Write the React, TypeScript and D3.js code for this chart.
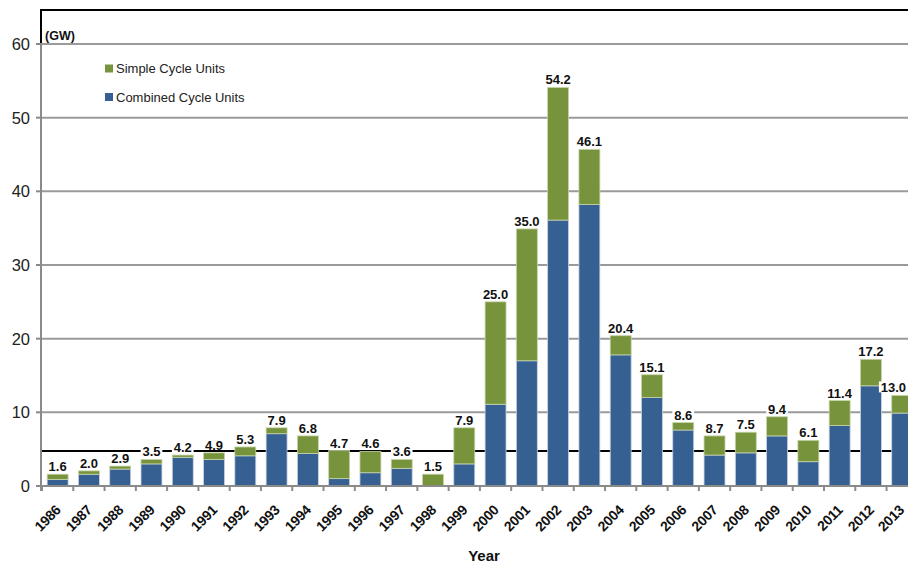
import React from "react";
import * as d3 from "d3";

const years = [
  "1986","1987","1988","1989","1990","1991","1992","1993","1994","1995",
  "1996","1997","1998","1999","2000","2001","2002","2003","2004","2005",
  "2006","2007","2008","2009","2010","2011","2012","2013",
];
const combined = [0.9,1.6,2.3,3.0,3.9,3.6,4.1,7.1,4.4,1.0,1.8,2.4,0,3.0,11.1,17.0,36.1,38.2,17.8,12.0,7.6,4.2,4.5,6.8,3.3,8.2,13.6,9.9];
const simple = [0.7,0.45,0.4,0.6,0.3,0.9,1.2,0.8,2.4,3.8,2.9,1.2,1.6,4.9,13.9,17.9,18.0,7.5,2.6,3.1,1.0,2.6,2.8,2.6,2.9,3.4,3.6,2.4];
const totalLabels = ["1.6","2.0","2.9","3.5","4.2","4.9","5.3","7.9","6.8","4.7","4.6","3.6","1.5","7.9","25.0","35.0","54.2","46.1","20.4","15.1","8.6","8.7","7.5","9.4","6.1","11.4","17.2","13.0"];
const yTicks = [0, 10, 20, 30, 40, 50, 60];
const refLine = 4.75;
const seriesNames = ["Simple Cycle Units", "Combined Cycle Units"];

const GREEN = "#77933C";
const BLUE = "#376092";
const FONT = "Liberation Sans, Arial, sans-serif";

export default function App() {
  const W = 908, H = 565;
  const x = d3.scaleBand<string>().domain(years).range([42, 42 + 28 * 31.28]).paddingInner(0.33).paddingOuter(0.165);
  const y = d3.scaleLinear().domain([0, 60]).range([486, 44]);
  const step = x.step();
  const bw = x.bandwidth();

  return (
    <svg width={W} height={H} style={{ position: "absolute", left: 0, top: 0, background: "#fff" }} fontFamily={FONT}>
      <rect x={0} y={0} width={W} height={H} fill="#fff" />
      <path d={`M41,44 V10 H${W}`} fill="none" stroke="#000" strokeWidth={2} />
      {yTicks.filter((t) => t > 0).map((t) => (
        <line key={t} x1={41} x2={W} y1={y(t)} y2={y(t)} stroke="#9a9a9a" strokeWidth={2} />
      ))}
      {yTicks.map((t) => (
        <g key={"yt" + t}>
          <line x1={36} x2={41} y1={y(t)} y2={y(t)} stroke="#8a8a8a" strokeWidth={2} />
          <text x={30} y={y(t) + 6} textAnchor="end" fontSize={16.5} fill="#222">{t}</text>
        </g>
      ))}
      <line x1={41} x2={W} y1={y(refLine)} y2={y(refLine)} stroke="#000" strokeWidth={2} />
      {years.map((yr, i) => {
        const x0 = x(yr)!;
        const c = combined[i];
        const s = simple[i];
        return (
          <g key={yr}>
            {c > 0 && (
              <rect x={x0} y={y(c)} width={bw} height={y(0) - y(c)} fill={BLUE} stroke="#c9d3e3" strokeWidth={0.8} />
            )}
            <rect x={x0} y={y(c + s)} width={bw} height={y(c) - y(c + s)} fill={GREEN} stroke="#c6d4a8" strokeWidth={0.8} />
          </g>
        );
      })}
      {years.map((yr, i) => {
        const tw = totalLabels[i].length * 7.4 - 2.5;
        let cx = x(yr)! + bw / 2;
        if (cx + tw / 2 > W - 1) cx = W - 1 - tw / 2;
        const top = y(combined[i] + simple[i]);
        const base = top - 3;
        return (
          <g key={"lb" + yr}>
            <rect x={cx - tw / 2 - 1} y={base - 11} width={tw + 2} height={11} fill="#fff" />
            <text x={cx} y={base} textAnchor="middle" fontSize={13} fontWeight="bold" fill="#111">{totalLabels[i]}</text>
          </g>
        );
      })}
      <line x1={41} x2={W} y1={486} y2={486} stroke="#8a8a8a" strokeWidth={2} />
      <line x1={41} x2={41} y1={44} y2={491} stroke="#8a8a8a" strokeWidth={2} />
      {years.map((yr, i) => {
        const bx = 42 + i * step;
        return <line key={"xt" + yr} x1={bx} x2={bx} y1={486} y2={491} stroke="#8a8a8a" strokeWidth={2} />;
      })}
      {years.map((yr) => {
        const cx = x(yr)! + bw / 2;
        return (
          <g key={"xl" + yr} transform={`translate(${Math.min(cx + 4, W - 3)},${511})`}>
            <text transform="rotate(-45)" textAnchor="end" fontSize={14} letterSpacing={-0.3} fontWeight="bold" fill="#111">{yr}</text>
          </g>
        );
      })}
      <text x={484} y={561} textAnchor="middle" fontSize={15} fontWeight="bold" fill="#111">Year</text>
      <text x={45} y={40} fontSize={12.5} fontWeight="bold" fill="#111">(GW)</text>
      {seriesNames.map((n, i) => (
        <g key={n} transform={`translate(105,${64.5 + i * 28.5})`}>
          <rect x={0} y={0} width={8} height={8} fill={i === 0 ? GREEN : BLUE} />
          <text x={11} y={8.5} fontSize={13} fill="#222">{n}</text>
        </g>
      ))}
    </svg>
  );
}
